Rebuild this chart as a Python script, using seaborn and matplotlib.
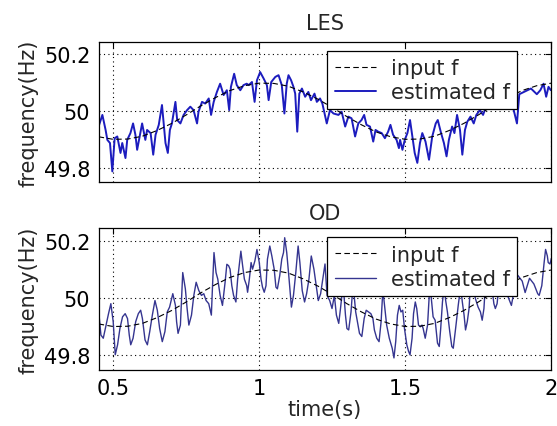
import numpy as np
import pandas as pd
import seaborn as sns
import matplotlib
matplotlib.use("Agg")
import matplotlib.pyplot as plt

# reference (input) frequency, read every 0.05 s
input_t = [0.45, 0.50, 0.55, 0.60, 0.65, 0.70, 0.75, 0.80, 0.85, 0.90, 0.95, 1.00,
           1.05, 1.10, 1.15, 1.20, 1.25, 1.30, 1.35, 1.40, 1.45, 1.50, 1.55, 1.60,
           1.65, 1.70, 1.75, 1.80, 1.85, 1.90, 1.95, 2.00]
input_f = [49.910, 49.901, 49.902, 49.912, 49.932, 49.957, 49.987, 50.019, 50.048, 50.073,
           50.090, 50.099, 50.098, 50.088, 50.068, 50.043, 50.013, 49.981, 49.952, 49.927,
           49.910, 49.901, 49.902, 49.912, 49.932, 49.957, 49.987, 50.019, 50.048, 50.073,
           50.090, 50.099]

# LES estimate
les_t = [0.448, 0.463, 0.474, 0.480, 0.489, 0.497, 0.505, 0.514, 0.525, 0.531, 0.542, 0.548,
         0.559, 0.568, 0.576, 0.582, 0.593, 0.599, 0.610, 0.616, 0.628, 0.637, 0.645, 0.656,
         0.667, 0.673, 0.679, 0.687, 0.694, 0.701, 0.713, 0.719, 0.730, 0.741, 0.753, 0.764,
         0.775, 0.787, 0.792, 0.804, 0.815, 0.827, 0.835, 0.844, 0.855, 0.866, 0.878, 0.889,
         0.897, 0.903, 0.914, 0.923, 0.935, 0.946, 0.957, 0.964, 0.975, 0.984, 0.992, 1.003,
         1.015, 1.026, 1.032, 1.041, 1.055, 1.066, 1.077, 1.086, 1.094, 1.100, 1.109, 1.117,
         1.123, 1.130, 1.137, 1.146, 1.157, 1.168, 1.177, 1.189, 1.197, 1.208, 1.216, 1.231,
         1.242, 1.254, 1.271, 1.282, 1.294, 1.305, 1.316, 1.328, 1.339, 1.350, 1.359, 1.367,
         1.379, 1.390, 1.398, 1.407, 1.419, 1.430, 1.441, 1.449, 1.458, 1.470, 1.478, 1.482,
         1.490, 1.498, 1.507, 1.516, 1.524, 1.532, 1.541, 1.550, 1.558, 1.569, 1.581, 1.592,
         1.604, 1.611, 1.621, 1.632, 1.641, 1.649, 1.660, 1.668, 1.677, 1.687, 1.695, 1.704,
         1.712, 1.723, 1.734, 1.743, 1.755, 1.766, 1.774, 1.786, 1.803, 1.820, 1.840, 1.860,
         1.882, 1.890, 1.910, 1.930, 1.950, 1.962, 1.973, 1.982, 1.990, 1.998]
les_f = [49.940, 49.987, 49.934, 49.899, 49.888, 49.788, 49.905, 49.911, 49.853, 49.888, 49.835, 49.899,
         49.923, 49.957, 49.917, 49.864, 49.923, 49.957, 49.899, 49.934, 49.923, 49.847, 49.917, 49.952,
         50.022, 49.957, 49.888, 49.853, 49.934, 49.957, 50.033, 49.969, 49.957, 49.987, 50.004, 50.016,
         50.004, 49.957, 49.998, 50.033, 50.027, 50.045, 49.987, 50.033, 50.068, 50.097, 50.057, 50.074,
         50.004, 50.086, 50.132, 50.092, 50.074, 50.092, 50.097, 50.092, 50.103, 50.033, 50.109, 50.138,
         50.115, 50.092, 50.039, 50.103, 50.121, 50.127, 50.092, 49.992, 50.097, 50.127, 50.109, 50.086,
         50.062, 49.928, 50.062, 50.080, 50.051, 50.068, 50.039, 50.062, 50.033, 50.045, 50.027, 49.957,
         50.004, 49.992, 49.987, 49.998, 49.946, 49.981, 49.975, 49.911, 49.957, 49.969, 49.987, 49.952,
         49.946, 49.893, 49.934, 49.928, 49.923, 49.905, 49.928, 49.952, 49.917, 49.899, 49.870, 49.899,
         49.864, 49.899, 49.923, 49.969, 49.911, 49.853, 49.818, 49.888, 49.923, 49.893, 49.829, 49.911,
         49.957, 49.969, 49.928, 49.888, 49.841, 49.899, 49.946, 49.923, 49.987, 49.934, 49.847, 49.934,
         49.963, 49.981, 49.957, 49.987, 50.004, 49.987, 50.010, 50.016, 50.022, 50.030, 50.020, 50.050,
         49.957, 50.060, 50.070, 50.080, 50.060, 50.074, 50.097, 50.051, 50.086, 50.074]

# OD estimate
od_t = [0.450, 0.458, 0.466, 0.473, 0.484, 0.492, 0.500, 0.507, 0.515, 0.523, 0.532, 0.541,
        0.549, 0.555, 0.560, 0.568, 0.577, 0.586, 0.594, 0.600, 0.609, 0.617, 0.625, 0.634,
        0.643, 0.651, 0.659, 0.668, 0.677, 0.685, 0.693, 0.704, 0.713, 0.717, 0.722, 0.730,
        0.738, 0.747, 0.753, 0.759, 0.768, 0.776, 0.784, 0.793, 0.802, 0.810, 0.818, 0.827,
        0.836, 0.840, 0.845, 0.852, 0.858, 0.866, 0.874, 0.883, 0.889, 0.895, 0.900, 0.906,
        0.912, 0.920, 0.926, 0.937, 0.943, 0.949, 0.957, 0.960, 0.966, 0.972, 0.977, 0.985,
        0.992, 1.000, 1.006, 1.011, 1.017, 1.023, 1.028, 1.036, 1.043, 1.051, 1.057, 1.062,
        1.070, 1.077, 1.083, 1.087, 1.094, 1.102, 1.110, 1.117, 1.125, 1.133, 1.139, 1.147,
        1.155, 1.162, 1.170, 1.178, 1.187, 1.195, 1.202, 1.210, 1.219, 1.225, 1.232, 1.241,
        1.249, 1.257, 1.264, 1.272, 1.278, 1.287, 1.295, 1.300, 1.306, 1.314, 1.321, 1.330,
        1.338, 1.343, 1.351, 1.359, 1.366, 1.374, 1.382, 1.389, 1.394, 1.402, 1.410, 1.417,
        1.423, 1.430, 1.436, 1.445, 1.455, 1.461, 1.467, 1.473, 1.479, 1.485, 1.491, 1.497,
        1.505, 1.511, 1.516, 1.523, 1.528, 1.534, 1.539, 1.545, 1.551, 1.557, 1.561, 1.568,
        1.576, 1.584, 1.591, 1.595, 1.602, 1.610, 1.616, 1.621, 1.627, 1.633, 1.638, 1.644,
        1.652, 1.659, 1.664, 1.672, 1.681, 1.689, 1.695, 1.701, 1.706, 1.712, 1.718, 1.723,
        1.731, 1.740, 1.749, 1.757, 1.763, 1.769, 1.774, 1.786, 1.797, 1.803, 1.808, 1.814,
        1.820, 1.832, 1.842, 1.854, 1.863, 1.871, 1.885, 1.900, 1.910, 1.925, 1.940, 1.953,
        1.958, 1.967, 1.975, 1.980, 1.986, 1.989, 1.995, 2.000]
od_f = [49.958, 49.871, 49.860, 49.894, 49.946, 49.981, 49.918, 49.802, 49.837, 49.894, 49.935, 49.946,
        49.929, 49.871, 49.837, 49.860, 49.918, 49.946, 49.958, 49.929, 49.854, 49.837, 49.883, 49.941,
        49.992, 49.958, 49.894, 49.848, 49.883, 49.952, 49.969, 50.016, 49.975, 49.918, 49.877, 49.906,
        50.090, 50.033, 49.964, 49.906, 49.941, 50.010, 50.056, 50.027, 50.010, 50.016, 49.992, 49.981,
        49.941, 50.044, 50.160, 50.090, 50.067, 50.010, 49.975, 50.056, 50.119, 50.114, 50.102, 50.044,
        50.010, 49.987, 50.067, 50.165, 50.114, 50.067, 50.044, 50.021, 50.067, 50.125, 50.102, 50.131,
        50.171, 50.125, 50.067, 50.039, 50.021, 50.044, 50.137, 50.183, 50.148, 50.102, 50.039, 50.033,
        50.079, 50.137, 50.160, 50.212, 50.160, 50.067, 49.969, 50.010, 50.090, 50.183, 50.125, 50.027,
        49.987, 50.016, 50.067, 50.148, 50.102, 50.044, 49.992, 50.016, 50.079, 50.120, 50.010, 49.992,
        49.964, 50.010, 49.941, 49.912, 49.964, 50.050, 49.941, 49.894, 49.889, 49.952, 50.050, 49.952,
        49.906, 49.877, 49.866, 49.929, 49.958, 49.952, 49.946, 49.929, 49.889, 49.860, 49.848, 49.918,
        50.030, 49.964, 49.906, 49.860, 49.825, 49.791, 49.848, 49.941, 49.975, 49.952, 49.958, 49.894,
        49.837, 49.814, 49.802, 49.860, 49.946, 49.987, 49.964, 49.906, 49.900, 49.906, 49.894, 49.860,
        49.906, 50.050, 49.975, 49.935, 49.923, 49.843, 49.831, 49.894, 49.987, 50.040, 49.992, 49.952,
        49.883, 49.831, 49.825, 49.894, 49.975, 50.040, 49.987, 49.941, 49.889, 49.918, 49.964, 50.050,
        50.040, 49.998, 49.969, 49.952, 49.923, 49.964, 50.050, 50.070, 50.030, 49.981, 49.964, 49.981,
        50.040, 50.080, 50.030, 49.998, 49.975, 50.020, 50.080, 50.060, 50.020, 50.070, 50.050, 50.016,
        50.010, 50.044, 50.125, 50.171, 50.148, 50.125, 50.120, 50.140]

x_ticks = [0.5, 1, 1.5, 2]
x_tick_labels = ["0.5", "1", "1.5", "2"]
y_ticks = [49.8, 50, 50.2]
y_tick_labels = ["49.8", "50", "50.2"]

sns.set_theme(style="white")
plt.rcParams["font.family"] = ["DejaVu Sans"]
FS = 15


def plot_panel(ax, est_t, est_f, title, est_color, est_lw, pad):
    inp = pd.DataFrame({"t": input_t, "f": input_f})
    est = pd.DataFrame({"t": est_t, "f": est_f})
    sns.lineplot(data=est, x="t", y="f", ax=ax, color=est_color, lw=est_lw,
                 estimator=None, sort=False, label="estimated f", zorder=2)
    sns.lineplot(data=inp, x="t", y="f", ax=ax, color="black", lw=0.8,
                 estimator=None, sort=False, label="input f", zorder=3,
                 dashes=False, linestyle=(0, (5, 3)))
    ax.set_xlim(0.45, 2.0)
    ax.set_ylim(49.75, 50.245)
    ax.set_xticks(x_ticks)
    ax.set_yticks(y_ticks)
    ax.set_yticklabels(y_tick_labels, fontsize=FS)
    ax.grid(True, color="black", linestyle=(0, (1, 3)), linewidth=0.8)
    for s in ax.spines.values():
        s.set_color("black")
        s.set_linewidth(0.9)
    ax.tick_params(direction="in", length=4, width=0.8, top=True, right=True,
                   colors="black", pad=6)
    ax.set_title(title, fontsize=FS, pad=pad)
    ax.set_ylabel("frequency(Hz)", fontsize=FS, labelpad=4)
    ax.set_xlabel("")
    handles, labels = ax.get_legend_handles_labels()
    order = [labels.index("input f"), labels.index("estimated f")]
    leg = ax.legend([handles[i] for i in order], [labels[i] for i in order],
                    loc="upper left", bbox_to_anchor=(0.505, 0.936),
                    borderaxespad=0, fontsize=FS, frameon=True, fancybox=False,
                    edgecolor="black", framealpha=1, handlelength=2.0,
                    handletextpad=0.7, labelspacing=0.2, borderpad=0.35)
    leg.get_frame().set_linewidth(0.9)
    leg.set_zorder(5)
    return ax


fig = plt.figure(figsize=(5.57, 4.27), dpi=100)
ax1 = fig.add_axes([0.177, 0.571, 0.813, 0.329])
ax2 = fig.add_axes([0.177, 0.132, 0.813, 0.331])

plot_panel(ax1, les_t, les_f, "LES", "#1c1cbe", 1.4, 9)
ax1.set_xticklabels([])

plot_panel(ax2, od_t, od_f, "OD", "#353590", 1.0, 7)
ax2.set_xticklabels(x_tick_labels, fontsize=FS)
ax2.set_xlabel("time(s)", fontsize=FS, labelpad=1)

fig.savefig("out.png", dpi=100)
